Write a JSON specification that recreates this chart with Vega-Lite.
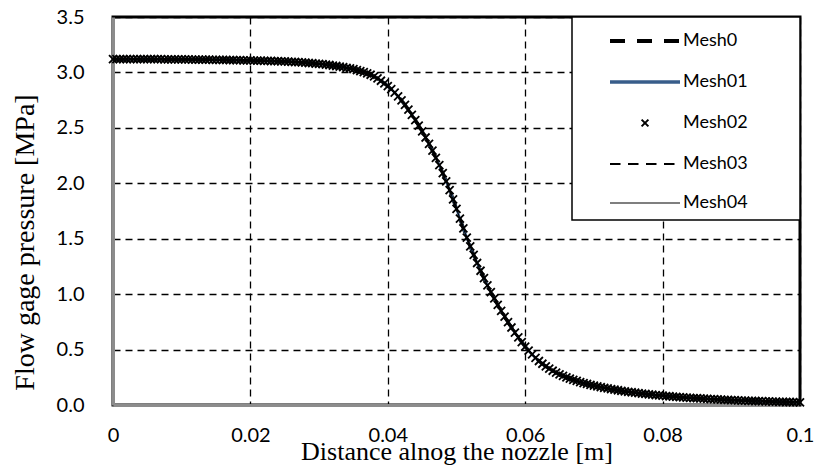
{
"$schema": "https://vega.github.io/schema/vega-lite/v6.json",
"autosize": {"type": "none"},
"width": 687, "height": 388,
"padding": {"left": 113, "top": 17, "right": 19, "bottom": 66},
"background": "white",
"config": {
 "view": {"stroke": "black", "strokeWidth": 3},
 "axis": {"grid": true, "gridColor": "black", "gridDash": [7,5], "gridWidth": 1.3, "gridOpacity": 1, "ticks": false, "labelFlush": false, "domainColor": "#8c8c8c", "domainWidth": 3, "labelFont": "Lato", "labelFontSize": 20, "labelColor": "#000", "titleFont": "Liberation Serif", "titleFontSize": 26, "titleFontWeight": "normal", "titleColor": "#000"}
},
"data": {"values": [
{"x":0,"p":3.120},{"x":0.0005,"p":3.120},{"x":0.001,"p":3.120},{"x":0.0015,"p":3.120},{"x":0.002,"p":3.120},{"x":0.0025,"p":3.120},{"x":0.003,"p":3.120},{"x":0.0035,"p":3.120},{"x":0.004,"p":3.120},{"x":0.0045,"p":3.119},
{"x":0.005,"p":3.119},{"x":0.0055,"p":3.119},{"x":0.006,"p":3.119},{"x":0.0065,"p":3.119},{"x":0.007,"p":3.119},{"x":0.0075,"p":3.118},{"x":0.008,"p":3.118},{"x":0.0085,"p":3.118},{"x":0.009,"p":3.118},{"x":0.0095,"p":3.117},
{"x":0.01,"p":3.117},{"x":0.0105,"p":3.117},{"x":0.011,"p":3.117},{"x":0.0115,"p":3.116},{"x":0.012,"p":3.116},{"x":0.0125,"p":3.115},{"x":0.013,"p":3.115},{"x":0.0135,"p":3.115},{"x":0.014,"p":3.115},{"x":0.0145,"p":3.114},
{"x":0.015,"p":3.114},{"x":0.0155,"p":3.114},{"x":0.016,"p":3.113},{"x":0.0165,"p":3.113},{"x":0.017,"p":3.112},{"x":0.0175,"p":3.112},{"x":0.018,"p":3.111},{"x":0.0185,"p":3.110},{"x":0.019,"p":3.109},{"x":0.0195,"p":3.109},
{"x":0.02,"p":3.108},{"x":0.0205,"p":3.107},{"x":0.021,"p":3.106},{"x":0.0215,"p":3.106},{"x":0.022,"p":3.105},{"x":0.0225,"p":3.104},{"x":0.023,"p":3.103},{"x":0.0235,"p":3.102},{"x":0.024,"p":3.101},{"x":0.0245,"p":3.100},
{"x":0.025,"p":3.099},{"x":0.0255,"p":3.098},{"x":0.026,"p":3.096},{"x":0.0265,"p":3.094},{"x":0.027,"p":3.092},{"x":0.0275,"p":3.090},{"x":0.028,"p":3.088},{"x":0.0285,"p":3.085},{"x":0.029,"p":3.083},{"x":0.0295,"p":3.080},
{"x":0.03,"p":3.077},{"x":0.0305,"p":3.074},{"x":0.031,"p":3.070},{"x":0.0315,"p":3.067},{"x":0.032,"p":3.062},{"x":0.0325,"p":3.058},{"x":0.033,"p":3.053},{"x":0.0335,"p":3.048},{"x":0.034,"p":3.042},{"x":0.0345,"p":3.036},
{"x":0.035,"p":3.029},{"x":0.0355,"p":3.021},{"x":0.036,"p":3.012},{"x":0.0365,"p":3.002},{"x":0.037,"p":2.991},{"x":0.0375,"p":2.979},{"x":0.038,"p":2.964},{"x":0.0385,"p":2.946},{"x":0.039,"p":2.925},{"x":0.0395,"p":2.902},
{"x":0.04,"p":2.877},{"x":0.0405,"p":2.849},{"x":0.041,"p":2.818},{"x":0.0415,"p":2.784},{"x":0.042,"p":2.747},{"x":0.0425,"p":2.707},{"x":0.043,"p":2.664},{"x":0.0435,"p":2.618},{"x":0.044,"p":2.570},{"x":0.0445,"p":2.520},
{"x":0.045,"p":2.468},{"x":0.0455,"p":2.413},{"x":0.046,"p":2.355},{"x":0.0465,"p":2.294},{"x":0.047,"p":2.230},{"x":0.0475,"p":2.163},{"x":0.048,"p":2.092},{"x":0.0485,"p":2.017},{"x":0.049,"p":1.938},{"x":0.0495,"p":1.855},
{"x":0.05,"p":1.769},{"x":0.0505,"p":1.681},{"x":0.051,"p":1.594},{"x":0.0515,"p":1.510},{"x":0.052,"p":1.430},{"x":0.0525,"p":1.354},{"x":0.053,"p":1.281},{"x":0.0535,"p":1.211},{"x":0.054,"p":1.144},{"x":0.0545,"p":1.080},
{"x":0.055,"p":1.019},{"x":0.0555,"p":0.961},{"x":0.056,"p":0.904},{"x":0.0565,"p":0.849},{"x":0.057,"p":0.797},{"x":0.0575,"p":0.747},{"x":0.058,"p":0.699},{"x":0.0585,"p":0.653},{"x":0.059,"p":0.609},{"x":0.0595,"p":0.567},
{"x":0.06,"p":0.527},{"x":0.0605,"p":0.490},{"x":0.061,"p":0.456},{"x":0.0615,"p":0.425},{"x":0.062,"p":0.397},{"x":0.0625,"p":0.372},{"x":0.063,"p":0.349},{"x":0.0635,"p":0.328},{"x":0.064,"p":0.309},{"x":0.0645,"p":0.292},
{"x":0.065,"p":0.277},{"x":0.0655,"p":0.263},{"x":0.066,"p":0.250},{"x":0.0665,"p":0.238},{"x":0.067,"p":0.227},{"x":0.0675,"p":0.217},{"x":0.068,"p":0.207},{"x":0.0685,"p":0.198},{"x":0.069,"p":0.190},{"x":0.0695,"p":0.182},
{"x":0.07,"p":0.175},{"x":0.0705,"p":0.168},{"x":0.071,"p":0.162},{"x":0.0715,"p":0.155},{"x":0.072,"p":0.149},{"x":0.0725,"p":0.143},{"x":0.073,"p":0.138},{"x":0.0735,"p":0.133},{"x":0.074,"p":0.128},{"x":0.0745,"p":0.123},
{"x":0.075,"p":0.119},{"x":0.0755,"p":0.115},{"x":0.076,"p":0.111},{"x":0.0765,"p":0.107},{"x":0.077,"p":0.103},{"x":0.0775,"p":0.100},{"x":0.078,"p":0.096},{"x":0.0785,"p":0.093},{"x":0.079,"p":0.090},{"x":0.0795,"p":0.087},
{"x":0.08,"p":0.084},{"x":0.0805,"p":0.081},{"x":0.081,"p":0.079},{"x":0.0815,"p":0.076},{"x":0.082,"p":0.074},{"x":0.0825,"p":0.071},{"x":0.083,"p":0.069},{"x":0.0835,"p":0.067},{"x":0.084,"p":0.065},{"x":0.0845,"p":0.063},
{"x":0.085,"p":0.061},{"x":0.0855,"p":0.059},{"x":0.086,"p":0.057},{"x":0.0865,"p":0.055},{"x":0.087,"p":0.053},{"x":0.0875,"p":0.052},{"x":0.088,"p":0.050},{"x":0.0885,"p":0.049},{"x":0.089,"p":0.047},{"x":0.0895,"p":0.046},
{"x":0.09,"p":0.044},{"x":0.0905,"p":0.043},{"x":0.091,"p":0.042},{"x":0.0915,"p":0.040},{"x":0.092,"p":0.039},{"x":0.0925,"p":0.038},{"x":0.093,"p":0.037},{"x":0.0935,"p":0.036},{"x":0.094,"p":0.035},{"x":0.0945,"p":0.034},
{"x":0.095,"p":0.033},{"x":0.0955,"p":0.032},{"x":0.096,"p":0.031},{"x":0.0965,"p":0.030},{"x":0.097,"p":0.029},{"x":0.0975,"p":0.028},{"x":0.098,"p":0.027},{"x":0.0985,"p":0.027},{"x":0.099,"p":0.026},{"x":0.0995,"p":0.025},
{"x":0.1,"p":0.024}
]},
"encoding": {
 "x": {"field": "x", "type": "quantitative", "scale": {"domain": [0, 0.1], "nice": false, "zero": false},
   "axis": {"values": [0, 0.02, 0.04, 0.06, 0.08, 0.1], "format": "~g", "labelPadding": 20, "labelFlush": false, "title": "Distance alnog the nozzle [m]", "titleY": 54, "titleBaseline": "alphabetic"}},
 "y": {"field": "p", "type": "quantitative", "scale": {"domain": [0, 3.5], "nice": false},
   "axis": {"values": [0, 0.5, 1, 1.5, 2, 2.5, 3, 3.5], "format": ".1f", "labelPadding": 29, "labelAlign": "right", "labelBaseline": "middle", "labelFlush": false, "title": "Flow gage pressure [MPa]", "titleFontSize": 28, "titleX": -80, "titleY": 225, "titleAngle": -90, "titleAlign": "center", "titleBaseline": "alphabetic"}}
},
"layer": [
 {"mark": {"type": "line", "strokeDash": [15, 12], "strokeWidth": 3.5},
  "encoding": {"color": {"datum": "Mesh0", "type": "nominal",
    "scale": {"domain": ["Mesh0", "Mesh01", "Mesh02", "Mesh03", "Mesh04"], "range": ["black", "#385D8A", "black", "black", "black"]},
    "legend": {"title": null, "orient": "top-right", "offset": 0, "padding": 3, "fillColor": "white", "strokeColor": "black",
      "symbolSize": 1600, "symbolType": "stroke", "symbolStrokeWidth": 2, "symbolOffset": 49, "labelOffset": 17,
      "labelFont": "Lato", "labelFontSize": 18, "labelColor": "black", "rowPadding": 0,
      "encode": {
        "legend": {"update": {"strokeWidth": {"value": 1.5}}},
        "symbols": {"update": {
          "shape": {"signal": "'M-3.5,-0.95L-3.5,-0.95M7.4,0.7L7.4,0.7' + (datum.value === 'Mesh0' ? 'M-1.75,-0.05L-1,-0.05M-0.4,-0.05L0.35,-0.05M0.95,-0.05L1.7,-0.05M-1.75,0.05L-1,0.05M-0.4,0.05L0.35,0.05M0.95,0.05L1.7,0.05' : datum.value === 'Mesh01' ? 'M-1.75,-0.035L1.75,-0.035M-1.75,0.035L1.75,0.035' : datum.value === 'Mesh02' ? 'M-0.17,-0.17L0.17,0.17M0.17,-0.17L-0.17,0.17' : datum.value === 'Mesh03' ? 'M-1.75,0L-1.225,0M-0.85,0L-0.325,0M0.05,0L0.575,0M0.95,0L1.475,0' : 'M-1.75,-0.03L1.75,-0.03L1.75,0.03L-1.75,0.03Z')"},
          "stroke": {"signal": "datum.value === 'Mesh01' ? '#385D8A' : 'black'"},
          "strokeOpacity": {"signal": "datum.value === 'Mesh04' ? 0 : 1"},
          "fill": {"signal": "datum.value === 'Mesh04' ? 'black' : 'transparent'"},
          "opacity": {"value": 1}
        }}
      }}}}},
 {"mark": {"type": "line", "strokeWidth": 2.5}, "encoding": {"color": {"datum": "Mesh01", "type": "nominal"}}},
 {"mark": {"type": "line", "strokeWidth": 2, "strokeDash": [10.5, 7.5]}, "encoding": {"color": {"datum": "Mesh03", "type": "nominal"}}},
 {"mark": {"type": "line", "strokeWidth": 1}, "encoding": {"color": {"datum": "Mesh04", "type": "nominal"}}},
 {"mark": {"type": "point", "shape": "M-1,-1L1,1M1,-1L-1,1", "size": 64, "filled": false, "strokeWidth": 1.8, "opacity": 1}, "encoding": {"color": {"datum": "Mesh02", "type": "nominal"}}}
]
}
